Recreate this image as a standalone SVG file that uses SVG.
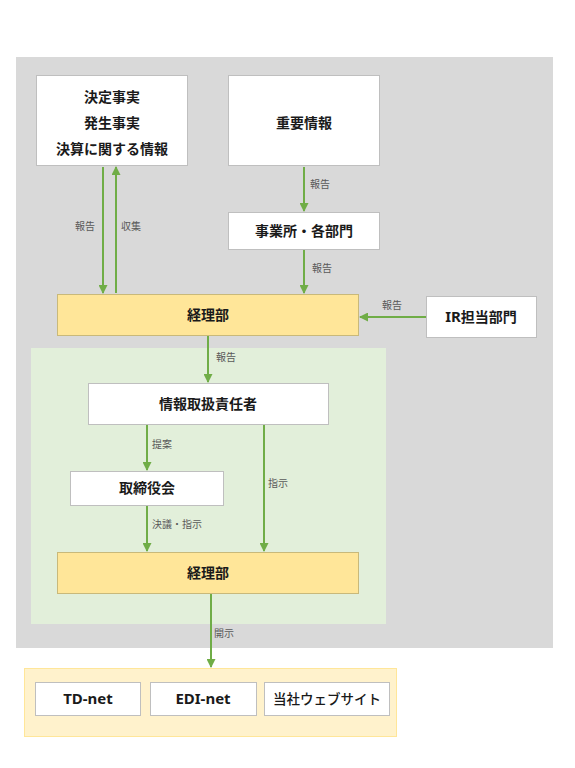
<svg xmlns="http://www.w3.org/2000/svg" width="575" height="768" viewBox="0 0 575 768">
<defs>
<style>
.box{fill:#ffffff;stroke:#bfbfbf;stroke-width:1}
.acc{fill:#ffe699;stroke:#c9b97a;stroke-width:1}
.t{font-family:"Noto Sans CJK JP","Noto Sans",sans-serif;font-weight:bold;font-size:14px;fill:#1a1a1a;text-anchor:middle;dominant-baseline:central}
.lt{font-family:"Noto Sans","DejaVu Sans",sans-serif;font-size:15px}
.lb{font-family:"Noto Sans CJK JP",sans-serif;font-size:10px;fill:#595959;dominant-baseline:central}
.c{stroke:#70ad47;stroke-width:2;fill:none}
</style>
<marker id="ah" markerWidth="9" markerHeight="9" refX="8" refY="4.5" orient="auto" markerUnits="userSpaceOnUse">
<path d="M0,0 L9,4.5 L0,9 Z" fill="#70ad47"/>
</marker>
</defs>
<rect width="575" height="768" fill="#ffffff"/>
<g id="bg-gray"><rect x="16" y="57" width="537" height="591" fill="#d9d9d9"/></g>
<g id="bg-green"><rect x="31" y="348" width="355" height="276" fill="#e2efda"/></g>
<g id="bg-yellow"><rect x="24.5" y="668.5" width="372" height="68" fill="#fff2cc" stroke="#ffe699" stroke-width="1"/></g>

<g id="n-facts">
<rect class="box" x="36.5" y="75.5" width="151" height="90"/>
<text class="t" x="112" y="96">決定事実</text>
<text class="t" x="112" y="122">発生事実</text>
<text class="t" x="112" y="148">決算に関する情報</text>
</g>
<g id="n-important">
<rect class="box" x="228.5" y="75.5" width="151" height="90"/>
<text class="t" x="304" y="122">重要情報</text>
</g>
<g id="n-office">
<rect class="box" x="228.5" y="212.5" width="151" height="37"/>
<text class="t" x="304" y="230">事業所・各部門</text>
</g>
<g id="n-ir">
<rect class="box" x="426.5" y="296.5" width="110" height="41"/>
<text class="t" x="481" y="316"><tspan class="lt">IR</tspan>担当部門</text>
</g>
<g id="n-keiri1">
<rect class="acc" x="57.5" y="294.5" width="301" height="41"/>
<text class="t" x="208" y="314">経理部</text>
</g>
<g id="n-officer">
<rect class="box" x="88.5" y="383.5" width="240" height="41"/>
<text class="t" x="208" y="403">情報取扱責任者</text>
</g>
<g id="n-board">
<rect class="box" x="70.5" y="471.5" width="153" height="34"/>
<text class="t" x="147" y="487">取締役会</text>
</g>
<g id="n-keiri2">
<rect class="acc" x="57.5" y="552.5" width="301" height="41"/>
<text class="t" x="208" y="572">経理部</text>
</g>
<g id="n-tdnet">
<rect class="box" x="35.5" y="682.5" width="105" height="33"/>
<text class="t lt" x="88" y="698">TD-net</text>
</g>
<g id="n-edinet">
<rect class="box" x="150.5" y="682.5" width="106" height="33"/>
<text class="t lt" x="203" y="698">EDI-net</text>
</g>
<g id="n-web">
<rect class="box" x="264.5" y="682.5" width="125" height="33"/>
<text class="t" x="327" y="698" style="font-weight:500;font-size:13.5px">当社ウェブサイト</text>
</g>

<g id="connectors">
<line class="c" x1="103" y1="167" x2="103" y2="293" marker-end="url(#ah)"/>
<line class="c" x1="116" y1="293" x2="116" y2="167" marker-end="url(#ah)"/>
<line class="c" x1="304" y1="167" x2="304" y2="211" marker-end="url(#ah)"/>
<line class="c" x1="304" y1="250" x2="304" y2="293" marker-end="url(#ah)"/>
<line class="c" x1="426" y1="317" x2="360" y2="317" marker-end="url(#ah)"/>
<line class="c" x1="208" y1="336" x2="208" y2="382" marker-end="url(#ah)"/>
<line class="c" x1="147" y1="425" x2="147" y2="470" marker-end="url(#ah)"/>
<line class="c" x1="264" y1="425" x2="264" y2="551" marker-end="url(#ah)"/>
<line class="c" x1="147" y1="506" x2="147" y2="551" marker-end="url(#ah)"/>
<line class="c" x1="211" y1="594" x2="211" y2="667" marker-end="url(#ah)"/>
<text class="lb" x="75" y="225">報告</text>
<text class="lb" x="121" y="225">収集</text>
<text class="lb" x="310" y="183">報告</text>
<text class="lb" x="312" y="267">報告</text>
<text class="lb" x="382" y="304">報告</text>
<text class="lb" x="216" y="356">報告</text>
<text class="lb" x="152" y="443">提案</text>
<text class="lb" x="268" y="482">指示</text>
<text class="lb" x="152" y="523">決議・指示</text>
<text class="lb" x="214" y="632">開示</text>
</g>
</svg>
